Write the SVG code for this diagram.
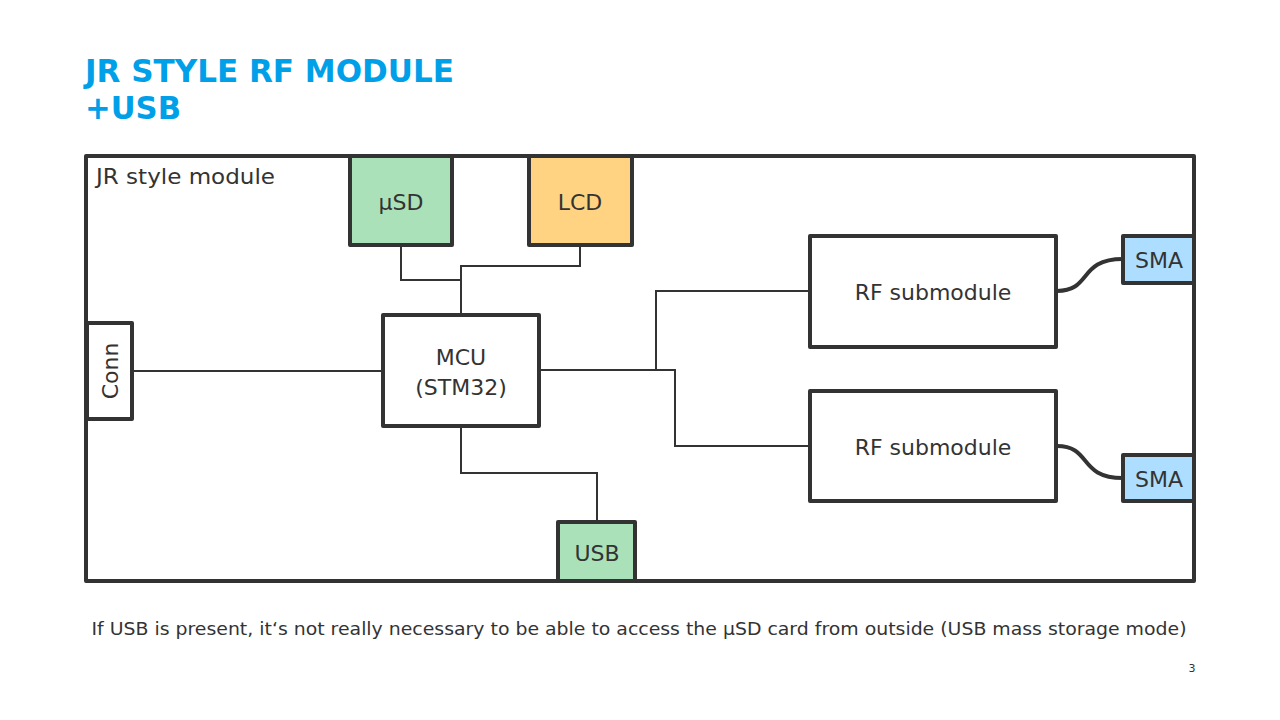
<svg xmlns="http://www.w3.org/2000/svg" width="1280" height="720" viewBox="0 0 1280 720">
<style>
.box{stroke:#333;stroke-width:4;stroke-linejoin:round}
.wire{fill:none;stroke:#333;stroke-width:2}
.curve{fill:none;stroke:#333;stroke-width:4}
.t{font-family:"DejaVu Sans","Noto Sans",sans-serif;fill:#333;font-size:22px}
.c{text-anchor:middle;dominant-baseline:central}
.title{font-family:"DejaVu Sans","Noto Sans",sans-serif;font-weight:bold;fill:#00a0e9;font-size:32px}
</style>
<rect width="1280" height="720" fill="#fff"/>
<text class="title" x="85" y="82" textLength="369" lengthAdjust="spacingAndGlyphs">JR STYLE RF MODULE</text>
<text class="title" x="85" y="119" textLength="96" lengthAdjust="spacingAndGlyphs">+USB</text>
<g id="frame">
<rect class="box" x="86" y="156" width="1108" height="425" fill="#fff"/>
<text class="t" x="96" y="184" textLength="179" lengthAdjust="spacingAndGlyphs">JR style module</text>
</g>
<g id="connectors">
<polyline class="wire" points="401,245 401,280 461,280"/>
<polyline class="wire" points="580,245 580,266 461,266 461,315"/>
<line class="wire" x1="132" y1="371" x2="383" y2="371"/>
<polyline class="wire" points="539,370 675,370 675,446 810,446"/>
<polyline class="wire" points="656,370 656,291 810,291"/>
<polyline class="wire" points="461,426 461,473 597,473 597,522"/>
<path class="curve" d="M1057,291 C1092,291 1078,259 1123,259"/>
<path class="curve" d="M1057,446 C1092,446 1078,478 1123,478"/>
</g>
<g id="usd">
<rect class="box" x="350" y="156" width="102" height="89" fill="#aae1b9"/>
<text class="t c" x="401" y="202">µSD</text>
</g>
<g id="lcd">
<rect class="box" x="529" y="156" width="103" height="89" fill="#ffd382"/>
<text class="t c" x="580" y="202">LCD</text>
</g>
<g id="mcu">
<rect class="box" x="383" y="315" width="156" height="111" fill="#fff"/>
<text class="t c" x="461" y="357">MCU</text>
<text class="t c" x="461" y="387">(STM32)</text>
</g>
<g id="conn">
<rect class="box" x="87" y="323" width="45" height="96" fill="#fff"/>
<text class="t c" x="110" y="371" transform="rotate(-90 110 371)">Conn</text>
</g>
<g id="rf1">
<rect class="box" x="810" y="236" width="246" height="111" fill="#fff"/>
<text class="t c" x="933" y="292">RF submodule</text>
</g>
<g id="rf2">
<rect class="box" x="810" y="391" width="246" height="110" fill="#fff"/>
<text class="t c" x="933" y="447">RF submodule</text>
</g>
<g id="sma1">
<rect class="box" x="1123" y="236" width="71" height="47" fill="#addeff"/>
<text class="t c" x="1159" y="260">SMA</text>
</g>
<g id="sma2">
<rect class="box" x="1123" y="455" width="71" height="46" fill="#addeff"/>
<text class="t c" x="1159" y="479">SMA</text>
</g>
<g id="usb">
<rect class="box" x="558" y="522" width="77" height="59" fill="#aae1b9"/>
<text class="t c" x="597" y="553">USB</text>
</g>
<text class="t" x="639" y="635" text-anchor="middle" style="font-size:18px" textLength="1095" lengthAdjust="spacingAndGlyphs">If USB is present, it‘s not really necessary to be able to access the µSD card from outside (USB mass storage mode)</text>
<text class="t" x="1192" y="672" text-anchor="middle" style="font-size:11px">3</text>
</svg>
